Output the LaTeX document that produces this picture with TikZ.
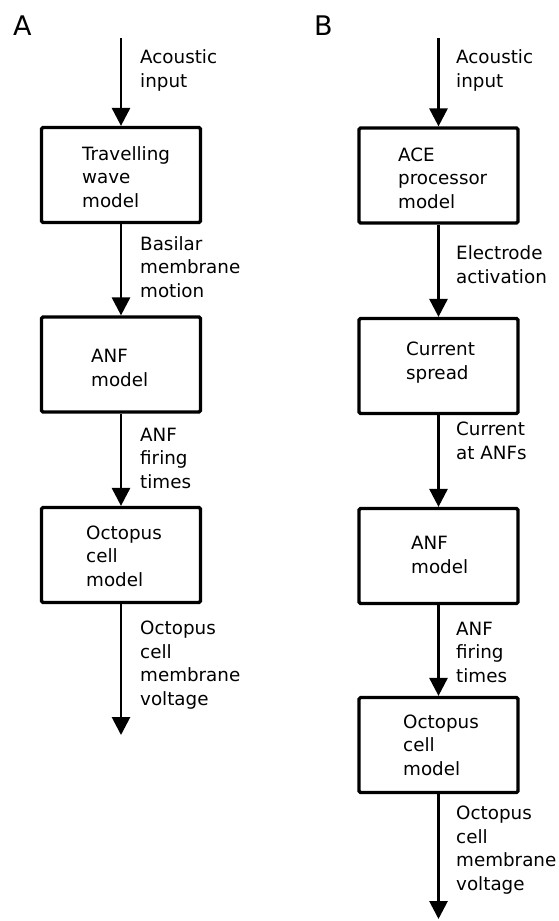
\documentclass[tikz,border=0pt]{standalone}
\usepackage{fontspec}
\setmainfont{DejaVu Sans}
\usetikzlibrary{arrows.meta}
\begin{document}
\begin{tikzpicture}[x=1pt,y=-1pt,
  box/.style={draw,line width=3.2pt,rounded corners=1.5pt,minimum width=159pt,minimum height=95pt,inner sep=0pt},
  txt/.style={font=\fontsize{18.3}{23.5}\selectfont,align=left,inner sep=0pt,anchor=base west},
  panel/.style={font=\fontsize{27}{30}\selectfont,inner sep=0pt,anchor=base west},
  arr/.style={line width=2.8pt,-{Triangle[width=18pt,length=18pt]}}]
\useasboundingbox (0,0) rectangle (559,921);
% panel A
\node[panel] (pa) at (13,35) {A};
\coordinate (a0) at (121,38);
\node[box] (a1) at (121,175) {};
\node[box] (a2) at (121,364.5) {};
\node[box] (a3) at (121,555) {};
\coordinate (a4) at (121,735);
\node[txt] (a1t) at (82,207) {Travelling\\wave\\model};
\node[txt] (a2t) at (91,386) {ANF\\model};
\node[txt] (a3t) at (86,586) {Octopus\\cell\\model};
\draw[arr] (a0) -- (a1);
\draw[arr] (a1) -- (a2);
\draw[arr] (a2) -- (a3);
\draw[arr] (a3) -- (a4);
\node[txt] (la1) at (140,87) {Acoustic\\input};
\node[txt] (la2) at (140,297) {Basilar\\membrane\\motion};
\node[txt] (la3) at (140,488) {ANF\\firing\\times};
\node[txt] (la4) at (140,705) {Octopus\\cell\\membrane\\voltage};
% panel B
\node[panel] (pb) at (314,35) {B};
\coordinate (b0) at (438.5,38);
\node[box] (b1) at (438.5,175.5) {};
\node[box] (b2) at (438.5,366) {};
\node[box] (b3) at (438.5,556) {};
\node[box] (b4) at (438.5,745) {};
\coordinate (b5) at (438.5,919);
\node[txt] (b1t) at (398,208) {ACE\\processor\\model};
\node[txt] (b2t) at (406,379) {Current\\spread};
\node[txt] (b3t) at (411,573) {ANF\\model};
\node[txt] (b4t) at (403,775) {Octopus\\cell\\model};
\draw[arr] (b0) -- (b1);
\draw[arr] (b1) -- (b2);
\draw[arr] (b2) -- (b3);
\draw[arr] (b3) -- (b4);
\draw[arr] (b4) -- (b5);
\node[txt] (lb1) at (456,87) {Acoustic\\input};
\node[txt] (lb2) at (456,283) {Electrode\\activation};
\node[txt] (lb3) at (456,459) {Current\\at ANFs};
\node[txt] (lb4) at (456,682) {ANF\\firing\\times};
\node[txt] (lb5) at (456,890) {Octopus\\cell\\membrane\\voltage};
\end{tikzpicture}
\end{document}
